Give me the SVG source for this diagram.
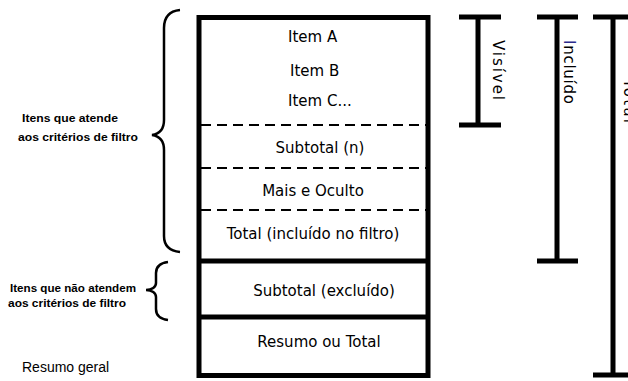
<svg xmlns="http://www.w3.org/2000/svg" width="628" height="381" viewBox="0 0 628 381">
<style>
.box{fill:#fff;stroke:#000;stroke-width:5}
.thick{stroke:#000;stroke-width:5}
.dash{stroke:#000;stroke-width:2;stroke-dasharray:10 6}
.lbl{font-family:"DejaVu Sans",sans-serif;font-size:15px;fill:#000}
.side{font-family:"Liberation Sans",sans-serif;font-weight:bold;font-size:11px;fill:#000}
.gen{font-family:"Liberation Sans",sans-serif;font-size:14px;fill:#000}
.bar{stroke:#000;stroke-width:5;fill:none}
.brace{fill:none;stroke:#000;stroke-width:2.5}
</style>
<rect width="628" height="381" fill="#fff"/>
<g id="table">
<rect class="box" x="199" y="17.5" width="229" height="358"/>
<line class="dash" x1="201" y1="125" x2="426" y2="125"/>
<line class="dash" x1="201" y1="168" x2="426" y2="168"/>
<line class="dash" x1="201" y1="210" x2="426" y2="210"/>
<line class="thick" x1="199" y1="261" x2="428" y2="261"/>
<line class="thick" x1="199" y1="317" x2="428" y2="317"/>
</g>
<g id="item-a"><text class="lbl" x="288" y="42">Item A</text></g>
<g id="item-b"><text class="lbl" x="290" y="75.5">Item B</text></g>
<g id="item-c"><text class="lbl" x="288" y="105.5">Item C...</text></g>
<g id="subtotal-n"><text class="lbl" x="320" y="153" text-anchor="middle">Subtotal (n)</text></g>
<g id="mais-oculto"><text class="lbl" x="313" y="195.5" text-anchor="middle">Mais e Oculto</text></g>
<g id="total-incluido"><text class="lbl" x="313" y="238.5" text-anchor="middle">Total (incluído no filtro)</text></g>
<g id="subtotal-excluido"><text class="lbl" x="324" y="295.5" text-anchor="middle">Subtotal (excluído)</text></g>
<g id="resumo-total"><text class="lbl" x="319" y="347" text-anchor="middle">Resumo ou Total</text></g>
<g id="brace-atende">
<path class="brace" d="M180,10 C170,11 164,16 164,28 L164,120 C164,130 159,134 152,135 C159,136 164,140 164,150 L164,236 C164,246 170,251 180,252"/>
<text class="side" x="22" y="122" textLength="96" lengthAdjust="spacingAndGlyphs">Itens que atende</text>
<text class="side" x="18" y="141" textLength="120" lengthAdjust="spacingAndGlyphs">aos critérios de filtro</text>
</g>
<g id="brace-nao-atende">
<path class="brace" d="M168,262 C160,263 156,266 156,273 L156,283 C156,287 152,290 146,290 C152,290 156,293 156,297 L156,309 C156,316 160,319 168,320"/>
<text class="side" x="10" y="292" textLength="126" lengthAdjust="spacingAndGlyphs">Itens que não atendem</text>
<text class="side" x="8" y="307" textLength="118" lengthAdjust="spacingAndGlyphs">aos critérios de filtro</text>
</g>
<g id="resumo-geral"><text class="gen" x="22" y="372">Resumo geral</text></g>
<g id="connectors">
<g id="bar-visivel">
<path class="bar" d="M459,17 H501 M478,17 V125 M459,125 H501"/>
<text class="lbl" transform="translate(493,40) rotate(90)" textLength="60" lengthAdjust="spacing">Visível</text>
</g>
<g id="bar-incluido">
<path class="bar" d="M537,17 H578 M557,17 V261 M537,261 H578"/>
<text class="lbl" transform="translate(564,40) rotate(90)" textLength="64" lengthAdjust="spacing"><tspan fill="#2b2b8c">I</tspan>ncluído</text>
</g>
<g id="bar-total">
<path class="bar" d="M593,17 H640 M613,17 V375 M593,375 H640"/>
<text class="lbl" transform="translate(624,79) rotate(90)" textLength="44" lengthAdjust="spacing">Total</text>
</g>
</g>
</svg>
